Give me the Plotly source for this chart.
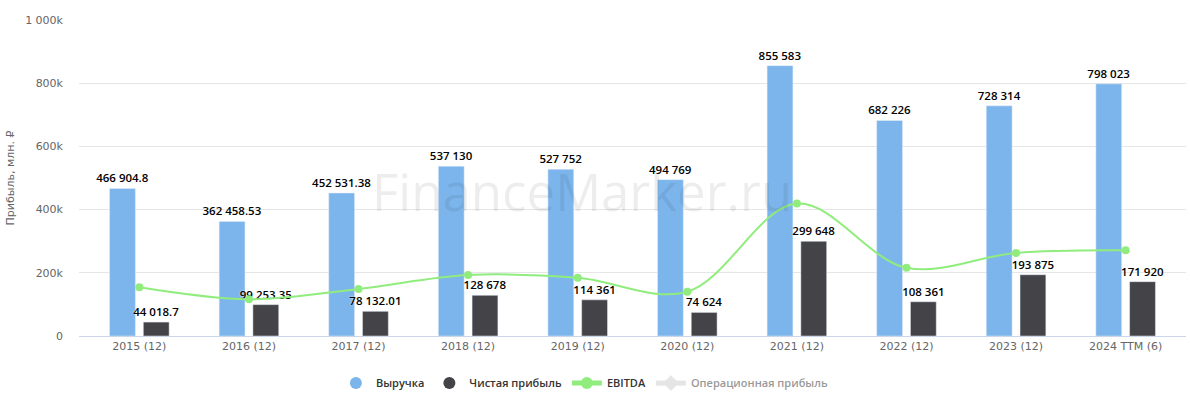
import plotly.graph_objects as go

categories = ["2015 (12)", "2016 (12)", "2017 (12)", "2018 (12)", "2019 (12)",
              "2020 (12)", "2021 (12)", "2022 (12)", "2023 (12)", "2024 TTM (6)"]
revenue = [466904.8, 362458.53, 452531.38, 537130, 527752, 494769, 855583, 682226, 728314, 798023]
revenue_labels = ["466 904.8", "362 458.53", "452 531.38", "537 130", "527 752",
                  "494 769", "855 583", "682 226", "728 314", "798 023"]
net_profit = [44018.7, 99253.35, 78132.01, 128678, 114361, 74624, 299648, 108361, 193875, 171920]
net_profit_labels = ["44 018.7", "99 253.35", "78 132.01", "128 678", "114 361",
                     "74 624", "299 648", "108 361", "193 875", "171 920"]
ebitda = [154000, 116000, 149000, 193000, 184000, 140000, 419000, 216000, 263000, 271000]
operating_profit = [None] * len(categories)

y_tickvals = [0, 200000, 400000, 600000, 800000, 1000000]
y_ticktext = ["0", "200k", "400k", "600k", "800k", "1 000k"]

FONT = "DejaVu Sans, Verdana, sans-serif"
label_font = dict(family="Open Sans, sans-serif", size=11.5, color="#000000", weight=600,
                  shadow="0px 0px 2px white")

fig = go.Figure()
fig.add_trace(go.Bar(x=categories, y=revenue, name="Выручка", marker_color="#7cb5ec",
                     text=revenue_labels, textposition="outside", textfont=label_font,
                     constraintext="none", cliponaxis=False, showlegend=False,
                     legendgroup="rev"))
fig.add_trace(go.Bar(x=categories, y=net_profit, name="Чистая прибыль", marker_color="#434348",
                     text=net_profit_labels, textposition="outside", textfont=label_font,
                     constraintext="none", cliponaxis=False, showlegend=False,
                     legendgroup="np"))
# legend entries with round symbols
fig.add_trace(go.Scatter(x=[None], y=[None], mode="markers", name="Выручка",
                         marker=dict(color="#7cb5ec", size=11, symbol="circle"),
                         legendgroup="rev"))
fig.add_trace(go.Scatter(x=[None], y=[None], mode="markers", name="Чистая прибыль",
                         marker=dict(color="#434348", size=11, symbol="circle"),
                         legendgroup="np"))
fig.add_trace(go.Scatter(x=categories, y=ebitda, name="EBITDA", mode="lines+markers",
                         line=dict(color="#90ed7d", width=2, shape="spline", smoothing=1.0),
                         marker=dict(color="#90ed7d", size=8), cliponaxis=False))
fig.add_trace(go.Scatter(x=categories, y=operating_profit, name="Операционная прибыль",
                         mode="lines+markers", visible="legendonly",
                         line=dict(color="#cccccc", width=2),
                         marker=dict(color="#cccccc", size=7, symbol="diamond")))

fig.add_annotation(text="FinanceMarker.ru", x=0.454, y=0.46, xref="paper", yref="paper",
                   showarrow=False,
                   font=dict(family="Open Sans, sans-serif", size=51, color="rgba(0,0,0,0.07)"))

fig.update_layout(
    width=1190, height=399,
    margin=dict(l=79, r=4, t=20, b=63, autoexpand=False),
    paper_bgcolor="white", plot_bgcolor="white",
    barmode="group", bargap=0.384, bargroupgap=0.235,
    font=dict(family=FONT, size=11, color="#666666"),
    legend=dict(orientation="h", x=0.457, xanchor="center", y=-0.149, yanchor="middle",
                font=dict(family="Open Sans, sans-serif", size=11, color="#333333", weight=600),
                itemsizing="constant", traceorder="normal", itemwidth=30,
                tracegroupgap=0),
    xaxis=dict(showgrid=False, showline=True, linecolor="#ccd6eb", linewidth=1,
               ticks="", tickfont=dict(size=11, color="#666666"), automargin=False),
    yaxis=dict(range=[0, 1000000], tickvals=y_tickvals, ticktext=y_ticktext,
               gridcolor="#e6e6e6", zeroline=False, showline=False, automargin=False,
               ticklabelstandoff=15, tickfont=dict(size=11, color="#666666"),
               title=dict(text="Прибыль, млн. ₽", font=dict(size=11, color="#666666"),
                          standoff=8)),
)

fig.write_html("out.html", config={"displayModeBar": False},
               post_script="document.body.style.margin='0';document.body.style.padding='0';")
